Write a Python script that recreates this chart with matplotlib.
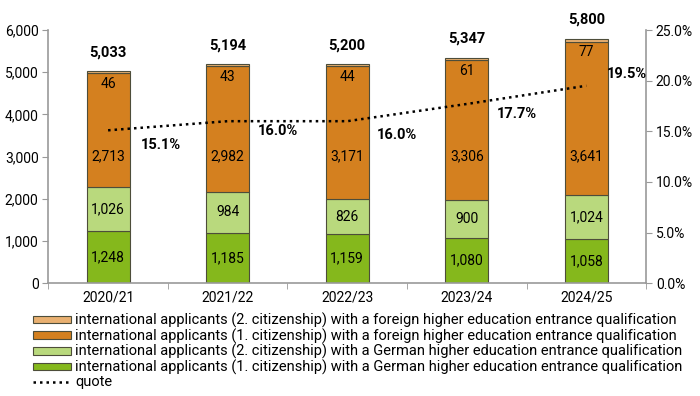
import numpy as np
import matplotlib.pyplot as plt
from matplotlib.ticker import FuncFormatter, FixedLocator

years = ["2020/21", "2021/22", "2022/23", "2023/24", "2024/25"]
ger_1 = [1248, 1185, 1159, 1080, 1058]
ger_2 = [1026, 984, 826, 900, 1024]
for_1 = [2713, 2982, 3171, 3306, 3641]
for_2 = [46, 43, 44, 61, 77]
quote = [15.1, 16.0, 16.0, 17.7, 19.5]

series_labels = [
    "international applicants (1. citizenship) with a German higher education entrance qualification",
    "international applicants (2. citizenship) with a German higher education entrance qualification",
    "international applicants (1. citizenship) with a foreign higher education entrance qualification",
    "international applicants (2. citizenship) with a foreign higher education entrance qualification",
]
colors = ["#85B81C", "#B9D97D", "#D4801F", "#E9B071"]

plt.rcParams["font.family"] = ["Roboto", "DejaVu Sans"]

fig = plt.figure(figsize=(7, 3.96), dpi=100)
ax = fig.add_axes([0.069, 0.285, 0.854, 0.639])
x = np.arange(len(years))
w = 0.36

stack = [ger_1, ger_2, for_1, for_2]
bottom = np.zeros(len(years))
handles = []
for vals, col, lab in zip(stack, colors, series_labels):
    b = ax.bar(x, vals, w, bottom=bottom, color=col, edgecolor="#4d4d3a", linewidth=0.8, label=lab)
    handles.append(b)
    bottom += np.array(vals)

# segment labels (green ones centred, the big orange one kept at a fixed height)
b0 = np.zeros(len(years))
for vals in stack[:2]:
    for j, v in enumerate(vals):
        ax.text(x[j], b0[j] + v / 2, f"{v:,}", ha="center", va="center", fontsize=10)
    b0 += np.array(vals)
for j, v in enumerate(for_1):
    ax.text(x[j], 3000, f"{v:,}", ha="center", va="center", fontsize=10)
# small top segment label just below the bar top
for j, v in enumerate(for_2):
    ax.annotate(f"{v:,}", (x[j], bottom[j]), xytext=(0, -9.5), textcoords="offset points",
                ha="center", va="center", fontsize=10)
# totals
for j, t in enumerate(bottom):
    ax.annotate(f"{int(t):,}", (x[j], t), xytext=(0, 13.5), textcoords="offset points",
                ha="center", va="center", fontsize=10.5, fontweight="bold")

ax.set_xlim(-0.5, len(years) - 0.5)
ax.set_ylim(0, 6000)
ax.set_yticks(np.arange(0, 6001, 1000))
ax.yaxis.set_major_formatter(FuncFormatter(lambda v, p: f"{int(v):,}"))
ax.set_xticks(x)
ax.set_xticklabels(years)
ax.xaxis.set_minor_locator(FixedLocator(np.arange(-0.5, len(years), 1.0)))
ax.tick_params(axis="x", which="major", length=0, labelsize=10, pad=5)
ax.tick_params(axis="x", which="minor", length=4, color="#999999")
ax.tick_params(axis="y", labelsize=10, color="#999999", length=4, pad=3)
for s in ["top", "right"]:
    ax.spines[s].set_visible(False)
for s in ["left", "bottom"]:
    ax.spines[s].set_color("#999999")
    ax.spines[s].set_linewidth(1.2)

ax2 = ax.twinx()
ax2.set_ylim(0, 25)
ax2.set_yticks(np.arange(0, 25.1, 5))
ax2.yaxis.set_major_formatter(FuncFormatter(lambda v, p: f"{v:.1f}%"))
ax2.tick_params(axis="y", labelsize=10, color="#999999", length=4, pad=3)
for s in ["top", "left", "bottom"]:
    ax2.spines[s].set_visible(False)
ax2.spines["right"].set_color("#999999")
ax2.spines["right"].set_linewidth(1.2)
line, = ax2.plot(x, quote, linestyle=(0, (1, 1.6)), color="black", linewidth=1.8, label="quote")

offsets = [(38, -10.7), (36, -7), (36, -10), (36, -7), (29.5, 8.4)]
for j, q in enumerate(quote):
    ax2.annotate(f"{q:.1f}%", (x[j], q), xytext=offsets[j], textcoords="offset points",
                 ha="center", va="center", fontsize=10.5, fontweight="bold")

leg_handles = handles[::-1] + [line]
leg_labels = series_labels[::-1] + ["quote"]
fig.legend(leg_handles, leg_labels, loc="upper left", bbox_to_anchor=(0.047, 0.21),
           frameon=False, fontsize=10.5, handlelength=2.6, handleheight=0.42,
           labelspacing=0.02, handletextpad=0.3, borderaxespad=0, borderpad=0)

fig.savefig("out.png", dpi=100)
